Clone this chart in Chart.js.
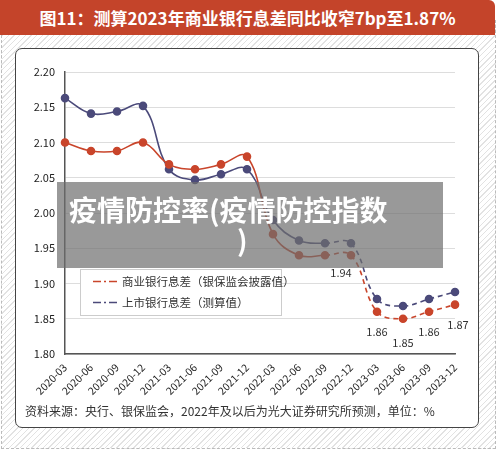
<!DOCTYPE html>
<html>
<head>
<meta charset="utf-8">
<script src="https://cdn.jsdelivr.net/npm/chart.js@4/dist/chart.umd.min.js"></script>
<style>
  html, body { margin: 0; padding: 0; }
  body { width: 500px; height: 451px; position: relative; overflow: hidden; background: #fff;
         font-family: "Noto Sans CJK SC", "Noto Sans", sans-serif; }
  #bg { position: absolute; left: 1px; top: 20px; width: 493px; height: 428px;
        border: 1px dashed #bbb; border-top: none;
        background: repeating-linear-gradient(135deg, #fff 0px, #fff 3px, #e2e2e2 3px, #e2e2e2 4px); }
  #title { position: absolute; left: 0; top: 0; width: 495px; height: 35px; background: #c4442a;
           border-radius: 0 6px 0 0; color: #fff; font-weight: bold; font-size: 17px;
           line-height: 35px; text-align: center; }
  #card { position: absolute; left: 15px; top: 48px; width: 462px; height: 378px; background: #fff;
          border: 1.5px solid #444; border-radius: 7px; }
  #wrap { position: absolute; left: 15px; top: 48px; width: 463px; height: 360px; }
  #note { position: absolute; left: 25px; top: 402px; font-size: 12px; color: #333; }
  #banner { position: absolute; left: 57px; top: 182px; width: 386px; height: 86px;
            background: rgba(110,110,110,0.7); color: #fff; font-weight: bold; font-size: 28px;
            line-height: 30px; box-sizing: border-box; padding-top: 12px; white-space: nowrap; }
  #banner .l1 { margin-left: 12px; }
  #banner .l2 { margin-left: 180px; }
</style>
</head>
<body>
<div id="bg"></div>
<div id="title">图11：测算2023年商业银行息差同比收窄7bp至1.87%</div>
<div id="card"></div>
<div id="wrap"><canvas id="c" width="463" height="360"></canvas></div>
<div id="note">资料来源：央行、银保监会，2022年及以后为光大证券研究所预测，单位：%</div>
<div id="banner"><div class="l1">疫情防控率(疫情防控指数</div><div class="l2">)</div></div>
<script>
var quarters = ["2020-03","2020-06","2020-09","2020-12","2021-03","2021-06","2021-09","2021-12",
                "2022-03","2022-06","2022-09","2022-12","2023-03","2023-06","2023-09","2023-12"];
var disclosed = [2.10, 2.088, 2.088, 2.10, 2.069, 2.062, 2.069, 2.08,
                 1.97, 1.94, 1.94, 1.94, 1.86, 1.85, 1.86, 1.87];
var listed = [2.163, 2.141, 2.144, 2.152, 2.062, 2.047, 2.055, 2.062,
              1.99, 1.961, 1.957, 1.957, 1.878, 1.868, 1.878, 1.888];
var labelFrom = 11;
var dashFrom = 10;
var seriesNames = ["商业银行息差（银保监会披露值）", "上市银行息差（测算值）"];

var red = "#c9452b", blue = "#4b4a7a";
var fontFam = "'Noto Sans CJK SC', 'Noto Sans', sans-serif";

var dashSeg = { borderDash: function (ctx) { return ctx.p0DataIndex >= dashFrom ? [5, 4] : undefined; } };

var extras = {
  id: "extras",
  afterDatasetsDraw: function (chart) {
    var ctx = chart.ctx;
    var meta = chart.getDatasetMeta(0);
    ctx.save();
    ctx.font = "11px " + fontFam;
    ctx.fillStyle = "#333";
    ctx.textAlign = "center";
    ctx.textBaseline = "middle";
    for (var i = labelFrom; i < disclosed.length; i++) {
      var p = meta.data[i];
      var dy = i === labelFrom ? 18 : 20;
      var dx = i === labelFrom ? -10 : (i === disclosed.length - 1 ? 3 : 0);
      if (i === 13) dy = 24;
      ctx.fillText(disclosed[i].toFixed(2), p.x + dx, p.y + dy);
    }
    // legend box inside plot
    var x0 = 65, y0 = 221, w = 201, h = 46;
    ctx.fillStyle = "#fff";
    ctx.fillRect(x0, y0, w, h);
    ctx.strokeStyle = "#ccc";
    ctx.lineWidth = 1;
    ctx.strokeRect(x0 + 0.5, y0 + 0.5, w, h);
    var cols = [red, blue];
    ctx.textAlign = "left";
    ctx.font = "11.5px " + fontFam;
    for (var k = 0; k < 2; k++) {
      var ly = y0 + 12.5 + k * 21;
      ctx.strokeStyle = cols[k];
      ctx.lineWidth = 1.3;
      ctx.setLineDash([8, 3, 2, 3]);
      ctx.beginPath();
      ctx.moveTo(x0 + 13, ly);
      ctx.lineTo(x0 + 38, ly);
      ctx.stroke();
      ctx.setLineDash([]);
      ctx.fillStyle = "#333";
      ctx.fillText(seriesNames[k], x0 + 42, ly);
    }
    ctx.restore();
  }
};

new Chart(document.getElementById("c"), {
  type: "line",
  data: {
    labels: quarters,
    datasets: [
      { label: seriesNames[0], data: disclosed, borderColor: red, backgroundColor: red,
        borderWidth: 1.6, pointRadius: 3.5, tension: 0.4, segment: dashSeg },
      { label: seriesNames[1], data: listed, borderColor: blue, backgroundColor: blue,
        borderWidth: 1.6, pointRadius: 3.5, tension: 0.4, segment: dashSeg }
    ]
  },
  options: {
    responsive: false,
    animation: false,
    layout: { padding: { top: 24, right: 23, left: 0, bottom: 0 } },
    plugins: { legend: { display: false }, tooltip: { enabled: false } },
    scales: {
      x: {
        offset: false,
        grid: { display: false, drawTicks: true, tickLength: 4, color: "#555" },
        border: { color: "#555", width: 1.5 },
        ticks: { minRotation: 45, maxRotation: 45, autoSkip: false, color: "#222",
                 font: { size: 10.5, family: fontFam } },
        afterFit: function (s) { s.height = 54; }
      },
      y: {
        min: 1.80, max: 2.20,
        grid: { color: "#ddd", drawTicks: false, lineWidth: 1 },
        border: { color: "#555", width: 1.5 },
        ticks: { stepSize: 0.05, padding: 10, color: "#222",
                 font: { size: 11, family: fontFam },
                 callback: function (v) { return v.toFixed(2); } },
        afterFit: function (s) { s.width = 50; }
      }
    }
  },
  plugins: [extras]
});
</script>
</body>
</html>
